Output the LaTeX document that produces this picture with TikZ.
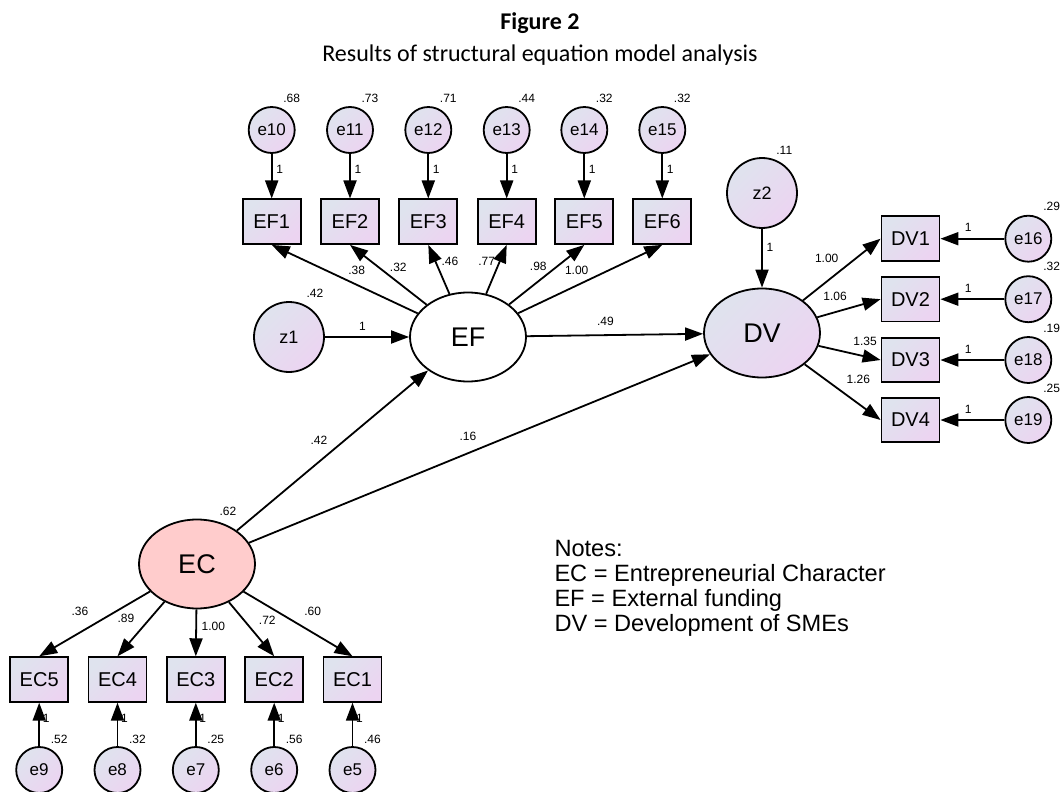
\documentclass[tikz,border=0pt]{standalone}
\usepackage{fontspec}
\setmainfont{Liberation Sans}
\newfontfamily\capfont{Carlito}
\usetikzlibrary{arrows.meta,shapes.geometric}

\definecolor{tintA}{HTML}{DFE3EE}
\definecolor{tintB}{HTML}{ECD4F1}
\definecolor{ecpink}{HTML}{FFCCCC}

\tikzset{
  tint/.style={top color=tintA,bottom color=tintB,shading angle=45},
  obsbox/.style={draw,tint,minimum width=29pt,minimum height=22.3pt,inner sep=0pt,font=\fontsize{10}{11}\selectfont},
  errnode/.style={circle,draw,tint,minimum size=23pt,inner sep=0pt,font=\fontsize{8.5}{10}\selectfont},
  disturb/.style={circle,draw,tint,minimum size=35pt,inner sep=0pt,font=\fontsize{9}{10}\selectfont},
  latent/.style={ellipse,draw,minimum width=58pt,minimum height=44.5pt,inner sep=0pt,font=\fontsize{13.5}{15}\selectfont},
  est/.style={inner sep=0pt,font=\fontsize{6}{7}\selectfont},
  captxt/.style={anchor=base,font=\capfont\fontsize{12}{14}\selectfont}
}

\begin{document}
\begin{tikzpicture}[x=0.5pt,y=-0.5pt,line width=0.9pt,>={Triangle[length=9pt,width=6.5pt]}]
  \useasboundingbox (0,0) rectangle (1061,792);
  \node[captxt,font=\capfont\fontsize{12}{14}\selectfont\bfseries] (title) at (540,29.3) {Figure 2};
  \node[captxt] (subtitle) at (540,61.7) {Results of structural equation model analysis};

  \node[errnode] (e10) at (271.7,130) {e10};
  \node[errnode] (e11) at (350,130) {e11};
  \node[errnode] (e12) at (428.3,130) {e12};
  \node[errnode] (e13) at (506.7,130) {e13};
  \node[errnode] (e14) at (584.3,130) {e14};
  \node[errnode] (e15) at (662.3,130) {e15};
  \node[obsbox] (EF1) at (271.7,221.7) {EF1};
  \node[obsbox] (EF2) at (350,221.7) {EF2};
  \node[obsbox] (EF3) at (428.3,221.7) {EF3};
  \node[obsbox] (EF4) at (506.7,221.7) {EF4};
  \node[obsbox] (EF5) at (584.3,221.7) {EF5};
  \node[obsbox] (EF6) at (662.3,221.7) {EF6};

  \node[latent,fill=white] (EF) at (468,337) {EF};
  \node[disturb] (z1) at (289,337) {z1};
  \node[latent,tint] (DV) at (762,333) {DV};
  \node[disturb] (z2) at (762,193) {z2};

  \node[obsbox] (DV1) at (910.5,238.7) {DV1};
  \node[obsbox] (DV2) at (910.5,299.2) {DV2};
  \node[obsbox] (DV3) at (910.5,360) {DV3};
  \node[obsbox] (DV4) at (910.5,420) {DV4};
  \node[errnode] (e16) at (1028.3,238.7) {e16};
  \node[errnode] (e17) at (1028.3,299.2) {e17};
  \node[errnode] (e18) at (1028.3,360) {e18};
  \node[errnode] (e19) at (1028.3,420) {e19};

  \node[latent,fill=ecpink] (EC) at (197,564) {EC};
  \node[obsbox] (EC5) at (39.2,679.5) {EC5};
  \node[obsbox] (EC4) at (117.5,679.5) {EC4};
  \node[obsbox] (EC3) at (195.8,679.5) {EC3};
  \node[obsbox] (EC2) at (274.2,679.5) {EC2};
  \node[obsbox] (EC1) at (352.5,679.5) {EC1};
  \node[errnode] (e9) at (39.2,770) {e9};
  \node[errnode] (e8) at (117.5,770) {e8};
  \node[errnode] (e7) at (195.8,770) {e7};
  \node[errnode] (e6) at (274.2,770) {e6};
  \node[errnode] (e5) at (352.5,770) {e5};

  \draw[->] (e10) -- (EF1);
  \draw[->] (e11) -- (EF2);
  \draw[->] (e12) -- (EF3);
  \draw[->] (e13) -- (EF4);
  \draw[->] (e14) -- (EF5);
  \draw[->] (e15) -- (EF6);
  \draw[->] (EF) -- (EF1.south);
  \draw[->] (EF) -- (EF2.south);
  \draw[->] (EF) -- (EF3.south);
  \draw[->] (EF) -- (EF4.south);
  \draw[->] (EF) -- (EF5.south);
  \draw[->] (EF) -- (EF6.south);
  \draw[->] (z1) -- (EF);
  \draw[->] (EF) -- (DV);
  \draw[->] (z2) -- (DV);
  \draw[->] (DV) -- (DV1.west);
  \draw[->] (DV) -- (DV2.west);
  \draw[->] (DV) -- (DV3.west);
  \draw[->] (DV) -- (DV4.west);
  \draw[->] (e16) -- (DV1);
  \draw[->] (e17) -- (DV2);
  \draw[->] (e18) -- (DV3);
  \draw[->] (e19) -- (DV4);
  \draw[->] (EC) -- (EF);
  \draw[->] (EC) -- (DV);
  \draw[->] (EC) -- (EC5.north);
  \draw[->] (EC) -- (EC4.north);
  \draw[->] (EC) -- (EC3.north);
  \draw[->] (EC) -- (EC2.north);
  \draw[->] (EC) -- (EC1.north);
  \draw[->] (e9) -- (EC5);
  \draw[->] (e8) -- (EC4);
  \draw[->] (e7) -- (EC3);
  \draw[->] (e6) -- (EC2);
  \draw[->] (e5) -- (EC1);

  \node[est] (v10) at (291.7,98) {.68};
  \node[est] (v11) at (370,98) {.73};
  \node[est] (v12) at (448.3,98) {.71};
  \node[est] (v13) at (526.7,98) {.44};
  \node[est] (v14) at (604.3,98) {.32};
  \node[est] (v15) at (682.3,98) {.32};
  \node[est] (f10) at (279.7,169) {1};
  \node[est] (f11) at (358,169) {1};
  \node[est] (f12) at (436.3,169) {1};
  \node[est] (f13) at (514.7,169) {1};
  \node[est] (f14) at (592.3,169) {1};
  \node[est] (f15) at (670.3,169) {1};
  \node[est] (wEF1) at (356.7,270.7) {.38};
  \node[est] (wEF2) at (398.3,267.3) {.32};
  \node[est] (wEF3) at (450,261.7) {.46};
  \node[est] (wEF4) at (486.7,261.7) {.77};
  \node[est] (wEF5) at (538.3,266.7) {.98};
  \node[est] (wEF6) at (576.7,270.7) {1.00};
  \node[est] (vz1) at (315,293.3) {.42};
  \node[est] (fz1) at (362.5,326) {1};
  \node[est] (bEFDV) at (605.4,321.7) {.49};
  \node[est] (vz2) at (784.3,150) {.11};
  \node[est] (fz2) at (770,247.3) {1};
  \node[est] (wDV1) at (826.7,258.3) {1.00};
  \node[est] (wDV2) at (835,296.7) {1.06};
  \node[est] (wDV3) at (865,341.7) {1.35};
  \node[est] (wDV4) at (858.3,379.3) {1.26};
  \node[est] (v16) at (1051.7,206) {.29};
  \node[est] (v17) at (1051.7,266.7) {.32};
  \node[est] (v18) at (1051.7,328.3) {.19};
  \node[est] (v19) at (1051.7,388.3) {.25};
  \node[est] (f16) at (968.3,227.7) {1};
  \node[est] (f17) at (968.3,288.2) {1};
  \node[est] (f18) at (968.3,349) {1};
  \node[est] (f19) at (968.3,409) {1};
  \node[est] (bECEF) at (319,440.7) {.42};
  \node[est] (bECDV) at (467.9,436.7) {.16};
  \node[est] (vEC) at (228,511) {.62};
  \node[est] (wEC5) at (80,611.7) {.36};
  \node[est] (wEC4) at (126,618.3) {.89};
  \node[est] (wEC3) at (213.3,626) {1.00};
  \node[est] (wEC2) at (267.3,620) {.72};
  \node[est] (wEC1) at (312.7,611.7) {.60};
  \node[est] (f9) at (46.2,718) {1};
  \node[est] (f8) at (124.5,718) {1};
  \node[est] (f7) at (202.8,718) {1};
  \node[est] (f6) at (281.2,718) {1};
  \node[est] (f5) at (359.5,718) {1};
  \node[est] (v9) at (59.2,739) {.52};
  \node[est] (v8) at (137.5,739) {.32};
  \node[est] (v7) at (215.8,739) {.25};
  \node[est] (v6) at (294.2,739) {.56};
  \node[est] (v5) at (372.5,739) {.46};

  \node[anchor=north west,inner sep=0pt,align=left,font=\fontsize{11.8}{12.6}\selectfont] (notes) at (553.6,539)
    {Notes:\\EC = Entrepreneurial Character\\EF = External funding\\DV = Development of SMEs};
\end{tikzpicture}
\end{document}
